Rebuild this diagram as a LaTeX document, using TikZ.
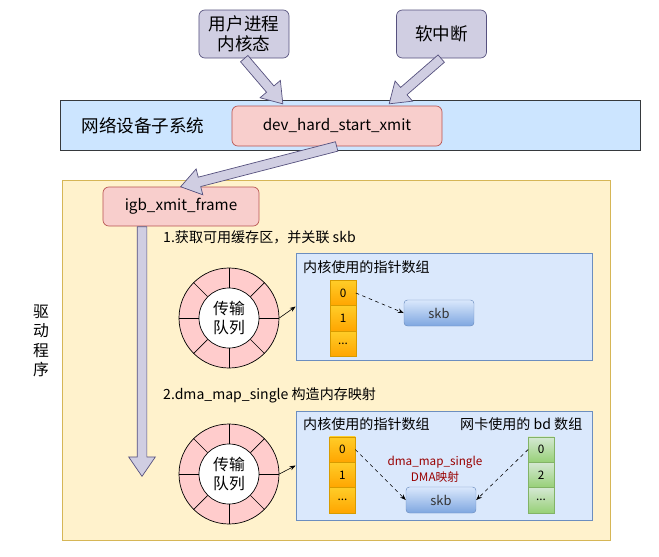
\documentclass[tikz,border=0pt]{standalone}
\usepackage{fontspec}
\setmainfont{Noto Sans CJK SC}
\usepackage{tikz}
\usetikzlibrary{arrows.meta, positioning, calc, shapes.arrows}
\definecolor{lavfill}{RGB}{208,206,226}
\definecolor{lavline}{RGB}{86,81,126}
\definecolor{netfill}{RGB}{204,229,255}
\definecolor{netline}{RGB}{54,57,61}
\definecolor{fnfill}{RGB}{248,206,204}
\definecolor{fnline}{RGB}{184,84,80}
\definecolor{drvfill}{RGB}{255,242,204}
\definecolor{drvline}{RGB}{214,182,86}
\definecolor{panfill}{RGB}{218,232,252}
\definecolor{panline}{RGB}{108,142,191}
\definecolor{ortop}{RGB}{255,205,40}
\definecolor{orbot}{RGB}{255,165,0}
\definecolor{orline}{RGB}{215,155,0}
\definecolor{grtop}{RGB}{213,232,212}
\definecolor{grbot}{RGB}{151,208,119}
\definecolor{grline}{RGB}{130,179,102}
\definecolor{skbbot}{RGB}{126,166,224}
\definecolor{ringfill}{RGB}{255,204,204}
\definecolor{notered}{RGB}{153,0,0}
\tikzset{
  topbox/.style={rectangle, draw=lavline, fill=lavfill, rounded corners=5pt,
    minimum width=2.7cm, minimum height=1.44cm, align=center,
    font=\fontsize{15}{17}\selectfont, line width=0.6pt},
  funcbox/.style={rectangle, draw=fnline, fill=fnfill, rounded corners=5pt,
    font=\fontsize{13}{15}\selectfont, line width=0.6pt},
  band/.style={rectangle, draw=netline, fill=netfill, line width=0.6pt,
    minimum width=17.4cm, minimum height=1.5cm},
  drvbox/.style={rectangle, draw=drvline, fill=drvfill, line width=0.6pt,
    minimum width=16.44cm, minimum height=10.8cm},
  panel/.style={rectangle, draw=panline, fill=panfill, line width=0.6pt,
    minimum width=8.88cm},
  bigtext/.style={font=\fontsize{15}{17}\selectfont, inner sep=0pt},
  steptext/.style={font=\fontsize{12}{14}\selectfont, inner sep=0pt},
  ringout/.style={circle, draw, fill=ringfill, minimum size=3cm, line width=0.6pt},
  ringin/.style={circle, draw, fill=white, minimum size=1.8cm, inner sep=0pt,
    align=center, font=\fontsize{13.5}{15.5}\selectfont, line width=0.6pt},
  cellor/.style={rectangle, draw=orline, top color=ortop, bottom color=orbot,
    minimum width=0.77cm, minimum height=0.76cm, inner sep=0pt, outer sep=0pt,
    font=\fontsize{10}{12}\selectfont},
  cellgr/.style={rectangle, draw=grline, top color=grtop, bottom color=grbot,
    minimum width=0.77cm, minimum height=0.76cm, inner sep=0pt, outer sep=0pt,
    font=\fontsize{10}{12}\selectfont},
  skbbox/.style={rectangle, draw=panline, top color=panfill, bottom color=skbbot,
    rounded corners=3pt, minimum width=2.1cm, minimum height=0.78cm,
    font=\fontsize{11}{13}\selectfont, text=black!80},
  flexarr/.style={single arrow, draw=lavline, fill=lavfill, line width=0.6pt,
    inner xsep=0pt, inner ysep=0.135cm, single arrow head extend=0.255cm,
    single arrow tip angle=69},
  ptr/.style={-{Stealth[length=5pt]}, dashed, line width=0.5pt},
  link/.style={-{Stealth[length=5pt]}, line width=0.5pt}
}
\newcommand{\flexarrow}[2]{%
  \path let \p1=($(#2)-(#1)$), \n1={atan2(\y1,\x1)}, \n2={veclen(\x1,\y1)} in
    node[flexarr, anchor=tail, rotate=\n1, minimum height=\n2] at (#1) {};}

\begin{document}
\begin{tikzpicture}[x=0.03cm, y=-0.03cm]
  \useasboundingbox (0,0) rectangle (659,557);

  % backgrounds
  \node[band] (net) at (350,125) {};
  \node[drvbox] (drv) at (336,360) {};
  \node[bigtext] (netname) at (143,126) {网络设备子系统};
  \node[font=\fontsize{13.5}{16.6}\selectfont, align=center, inner sep=0pt] (drvname) at (41,341) {驱\\动\\程\\序};

  % callers and functions
  \node[topbox] (user) at (244,34) {用户进程\\内核态};
  \node[topbox] (soft) at (441.5,34) {软中断};
  \node[funcbox, minimum width=6.3cm, minimum height=1.2cm] (devx) at (337,126) {dev\_hard\_start\_xmit};
  \node[funcbox, minimum width=4.68cm, minimum height=1.17cm] (igb) at (181,206.5) {igb\_xmit\_frame};

  % step 1
  \node[steptext, anchor=west] (s1) at (163,237) {1.获取可用缓存区，并关联 skb};
  \node[ringout] (q1) at (229,318) {};
  \node[ringin] (q1c) at (q1) {传输\\队列};
  \foreach \a in {0,45,...,315}
    \draw[line width=0.6pt] (q1c.\a) -- (q1.\a);
  \node[panel, minimum height=3.21cm] (p1) at (444,306.5) {};
  \node[steptext, anchor=west] (t1) at (303,267) {内核使用的指针数组};
  \node[cellor] (a0) at (343,293) {0};
  \node[cellor, below=0pt of a0] (a1) {1};
  \node[cellor, below=0pt of a1] (a2) {...};
  \node[skbbox] (k1) at (439,313) {skb};
  \draw[link] (q1.east) -- (p1.west);
  \draw[ptr] (a0.east) -- (k1.west);

  % step 2
  \node[steptext, anchor=west] (s2) at (163,395) {2.dma\_map\_single 构造内存映射};
  \node[ringout] (q2) at (229,474) {};
  \node[ringin] (q2c) at (q2) {传输\\队列};
  \foreach \a in {0,45,...,315}
    \draw[line width=0.6pt] (q2c.\a) -- (q2.\a);
  \node[panel, minimum height=3.27cm] (p2) at (444,465.5) {};
  \node[steptext, anchor=west] (t2) at (303,424) {内核使用的指针数组};
  \node[steptext, anchor=west] (t3) at (460,424) {网卡使用的 bd 数组};
  \node[cellor] (b0) at (342.5,449.5) {0};
  \node[cellor, below=0pt of b0] (b1) {1};
  \node[cellor, below=0pt of b1] (b2) {...};
  \node[cellgr] (g0) at (541,449.5) {0};
  \node[cellgr, below=0pt of g0] (g1) {2};
  \node[cellgr, below=0pt of g1] (g2) {...};
  \node[skbbox] (k2) at (441,500) {skb};
  \node[font=\fontsize{10}{13.7}\selectfont, text=notered, align=center] (note) at (435,469) {dma\_map\_single\\DMA映射};
  \draw[link] (q2.east) -- (p2.west);
  \draw[ptr] (b0.east) -- (k2.west);
  \draw[ptr] (g0.west) -- (k2.east);

  % block arrows
  \coordinate (ua) at ($(devx.north west)+(51,-2)$);
  \coordinate (sa) at ($(devx.north east)+(-53,-2)$);
  \coordinate (vend) at (142,476);
  \coordinate (vstart) at (igb.south -| vend);
  \flexarrow{user.south}{ua}
  \flexarrow{soft.south}{sa}
  \flexarrow{devx.south}{igb.north}
  \flexarrow{vstart}{vend}
\end{tikzpicture}
\end{document}
